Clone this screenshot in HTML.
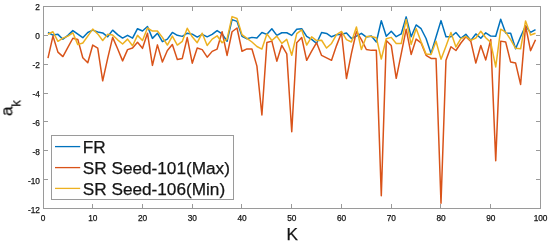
<!DOCTYPE html>
<html><head><meta charset="utf-8"><style>
html,body{margin:0;padding:0;background:#fff;overflow:hidden;width:550px;height:244px;}
svg{display:block;}
text{will-change:transform;}
text{font-family:"Liberation Sans",sans-serif;stroke:#141414;stroke-width:0.25px;}
</style></head><body>
<svg width="550" height="244" viewBox="0 0 550 244">
<rect x="0" y="0" width="550" height="244" fill="#fff"/>
<g stroke="#9a9a9a" stroke-width="1" fill="none">
<rect x="43.5" y="6.5" width="497" height="202"/>
<line x1="92.50" y1="208.5" x2="92.50" y2="204"/><line x1="92.50" y1="6.5" x2="92.50" y2="11"/><line x1="142.50" y1="208.5" x2="142.50" y2="204"/><line x1="142.50" y1="6.5" x2="142.50" y2="11"/><line x1="192.50" y1="208.5" x2="192.50" y2="204"/><line x1="192.50" y1="6.5" x2="192.50" y2="11"/><line x1="241.50" y1="208.5" x2="241.50" y2="204"/><line x1="241.50" y1="6.5" x2="241.50" y2="11"/><line x1="291.50" y1="208.5" x2="291.50" y2="204"/><line x1="291.50" y1="6.5" x2="291.50" y2="11"/><line x1="341.50" y1="208.5" x2="341.50" y2="204"/><line x1="341.50" y1="6.5" x2="341.50" y2="11"/><line x1="391.50" y1="208.5" x2="391.50" y2="204"/><line x1="391.50" y1="6.5" x2="391.50" y2="11"/><line x1="440.50" y1="208.5" x2="440.50" y2="204"/><line x1="440.50" y1="6.5" x2="440.50" y2="11"/><line x1="490.50" y1="208.5" x2="490.50" y2="204"/><line x1="490.50" y1="6.5" x2="490.50" y2="11"/><line x1="43.5" y1="35.50" x2="48" y2="35.50"/><line x1="540.5" y1="35.50" x2="536" y2="35.50"/><line x1="43.5" y1="64.50" x2="48" y2="64.50"/><line x1="540.5" y1="64.50" x2="536" y2="64.50"/><line x1="43.5" y1="93.50" x2="48" y2="93.50"/><line x1="540.5" y1="93.50" x2="536" y2="93.50"/><line x1="43.5" y1="121.50" x2="48" y2="121.50"/><line x1="540.5" y1="121.50" x2="536" y2="121.50"/><line x1="43.5" y1="150.50" x2="48" y2="150.50"/><line x1="540.5" y1="150.50" x2="536" y2="150.50"/><line x1="43.5" y1="179.50" x2="48" y2="179.50"/><line x1="540.5" y1="179.50" x2="536" y2="179.50"/>
</g>
<g fill="#141414" font-size="8.3">
<text x="43.05" y="220.6" text-anchor="middle">0</text><text x="92.80" y="220.6" text-anchor="middle">10</text><text x="142.55" y="220.6" text-anchor="middle">20</text><text x="192.30" y="220.6" text-anchor="middle">30</text><text x="242.05" y="220.6" text-anchor="middle">40</text><text x="291.80" y="220.6" text-anchor="middle">50</text><text x="341.55" y="220.6" text-anchor="middle">60</text><text x="391.30" y="220.6" text-anchor="middle">70</text><text x="441.05" y="220.6" text-anchor="middle">80</text><text x="490.80" y="220.6" text-anchor="middle">90</text><text x="540.55" y="220.6" text-anchor="middle">100</text>
<text x="39.9" y="10.30" text-anchor="end">2</text><text x="39.9" y="38.76" text-anchor="end">0</text><text x="39.9" y="68.02" text-anchor="end">-2</text><text x="39.9" y="96.88" text-anchor="end">-4</text><text x="39.9" y="125.74" text-anchor="end">-6</text><text x="39.9" y="154.60" text-anchor="end">-8</text><text x="39.9" y="184.06" text-anchor="end">-10</text><text x="39.9" y="212.72" text-anchor="end">-12</text>
</g>
<g fill="none" stroke-width="1.5" stroke-linejoin="round" stroke-linecap="butt">
<polyline stroke="#0072BD" points="47.98,32.47 52.95,35.07 57.92,34.35 62.90,39.26 67.88,35.36 72.85,30.60 77.82,34.21 82.80,37.67 87.78,32.47 92.75,30.17 97.72,32.04 102.70,32.91 107.67,36.80 112.65,30.17 117.62,34.64 122.60,38.10 127.57,35.36 132.55,38.10 137.52,28.72 142.50,31.03 147.47,26.56 152.45,38.39 157.43,33.20 162.40,41.71 167.38,39.11 172.35,32.47 177.32,35.36 182.30,36.37 187.27,33.20 192.25,34.21 197.22,37.09 202.20,34.35 207.17,36.80 212.15,34.35 217.12,30.60 222.10,33.92 227.07,41.28 232.05,19.63 237.02,21.36 242.00,36.37 246.97,38.82 251.95,37.38 256.92,37.96 261.90,32.47 266.88,34.35 271.85,28.72 276.82,35.36 281.80,32.76 286.77,32.76 291.75,35.36 296.73,29.16 301.70,28.72 306.67,36.37 311.65,39.40 316.62,43.30 321.60,32.47 326.57,33.48 331.55,36.80 336.52,34.64 341.50,34.35 346.47,33.05 351.45,38.53 356.42,36.08 361.40,33.34 366.38,37.09 371.35,35.94 376.32,42.00 381.30,20.79 386.27,36.23 391.25,31.18 396.22,36.66 401.20,33.92 406.17,16.89 411.15,36.80 416.12,24.97 421.10,28.72 426.07,38.53 431.05,53.40 436.02,37.09 441.00,20.64 445.97,36.80 450.95,36.80 455.92,32.47 460.90,38.39 465.87,34.35 470.85,40.41 475.82,33.92 480.80,38.25 485.77,32.76 490.75,36.08 495.72,36.23 500.70,19.20 505.67,32.91 510.65,33.20 515.62,48.78 520.60,36.80 525.58,25.84 530.55,32.47 535.52,29.59"/>
<polyline stroke="#D95319" points="47.98,58.16 52.95,36.08 57.92,52.10 62.90,56.57 67.88,47.48 72.85,38.25 77.82,39.40 82.80,57.73 87.78,62.78 92.75,45.03 97.72,48.06 102.70,80.81 107.67,58.45 112.65,37.38 117.62,48.78 122.60,60.90 127.57,49.65 132.55,48.06 137.52,42.29 142.50,48.35 147.47,33.20 152.45,65.37 157.43,44.88 162.40,62.06 167.38,50.51 172.35,44.60 177.32,59.60 182.30,58.45 187.27,37.52 192.25,63.21 197.22,48.06 202.20,49.65 207.17,57.15 212.15,51.38 217.12,49.07 222.10,31.75 227.07,55.42 232.05,31.75 237.02,28.00 242.00,51.23 246.97,48.92 251.95,48.92 256.92,66.10 261.90,115.01 266.88,42.58 271.85,41.13 276.82,61.19 281.80,45.32 286.77,53.83 291.75,131.75 296.73,42.72 301.70,37.52 306.67,60.32 311.65,51.23 316.62,42.72 321.60,55.42 326.57,57.87 331.55,60.32 336.52,45.61 341.50,32.76 346.47,78.51 351.45,53.40 356.42,31.46 361.40,39.69 366.38,49.50 371.35,50.37 376.32,50.37 381.30,195.82 386.27,40.55 391.25,45.46 396.22,78.36 401.20,53.83 406.17,29.16 411.15,54.41 416.12,39.11 421.10,42.86 426.07,55.27 431.05,58.45 436.02,58.59 441.00,203.18 445.97,60.32 450.95,46.76 455.92,50.51 460.90,43.01 465.87,36.80 470.85,41.42 475.82,63.07 480.80,45.46 485.77,59.89 490.75,39.40 495.72,160.76 500.70,41.13 505.67,42.00 510.65,62.06 515.62,63.07 520.60,84.42 525.58,25.84 530.55,50.66 535.52,39.69"/>
<polyline stroke="#EDB120" points="47.98,34.21 52.95,31.75 57.92,41.28 62.90,38.10 67.88,36.08 72.85,32.76 77.82,44.60 82.80,43.01 87.78,36.08 92.75,29.16 97.72,33.92 102.70,40.55 107.67,34.35 112.65,35.07 117.62,39.83 122.60,44.02 127.57,39.11 132.55,45.75 137.52,35.36 142.50,40.55 147.47,28.00 152.45,31.03 157.43,31.03 162.40,37.38 167.38,45.03 172.35,36.08 177.32,45.03 182.30,41.28 187.27,28.29 192.25,36.80 197.22,42.72 202.20,33.20 207.17,45.46 212.15,39.11 217.12,35.79 222.10,42.72 227.07,39.11 232.05,16.60 237.02,18.48 242.00,34.64 246.97,38.39 251.95,42.00 256.92,46.47 261.90,49.07 266.88,33.92 271.85,40.55 276.82,36.08 281.80,43.44 286.77,39.40 291.75,55.27 296.73,33.63 301.70,29.88 306.67,45.03 311.65,36.80 316.62,40.55 321.60,40.27 326.57,48.06 331.55,43.44 336.52,34.64 341.50,31.46 346.47,39.69 351.45,42.00 356.42,26.99 361.40,49.50 366.38,36.51 371.35,36.51 376.32,37.67 381.30,59.03 386.27,38.68 391.25,37.38 396.22,43.59 401.20,43.59 406.17,19.49 411.15,44.45 416.12,28.43 421.10,41.85 426.07,54.12 431.05,54.55 436.02,41.28 441.00,59.17 445.97,46.18 450.95,32.47 455.92,46.90 460.90,38.68 465.87,36.37 470.85,40.41 475.82,37.96 480.80,31.32 485.77,37.81 490.75,42.58 495.72,66.96 500.70,29.16 505.67,32.04 510.65,39.69 515.62,48.35 520.60,48.78 525.58,20.93 530.55,35.07 535.52,33.20"/>
</g>
<text x="292.2" y="239.7" font-size="17.2" fill="#141414" text-anchor="middle">K</text>
<g transform="translate(12.35,116.0) rotate(-90)" fill="#141414">
<text x="0" y="0" font-size="17.2">a</text><text x="9.3" y="8.2" font-size="13.2">k</text>
</g>
<g>
<rect x="51.5" y="135.5" width="182" height="64" fill="#fff" stroke="#9a9a9a" stroke-width="1"/>
<line x1="55" y1="146.6" x2="80.2" y2="146.6" stroke="#0072BD" stroke-width="1.3"/>
<line x1="55" y1="167.6" x2="80.2" y2="167.6" stroke="#D95319" stroke-width="1.3"/>
<line x1="55" y1="188.4" x2="80.2" y2="188.4" stroke="#EDB120" stroke-width="1.3"/>
<g fill="#141414" font-size="17.2">
<text x="82.8" y="152.5">FR</text>
<text x="82.8" y="173.9">SR Seed-101(Max)</text>
<text x="82.8" y="194.8">SR Seed-106(Min)</text>
</g>
</g>
</svg>
</body></html>
